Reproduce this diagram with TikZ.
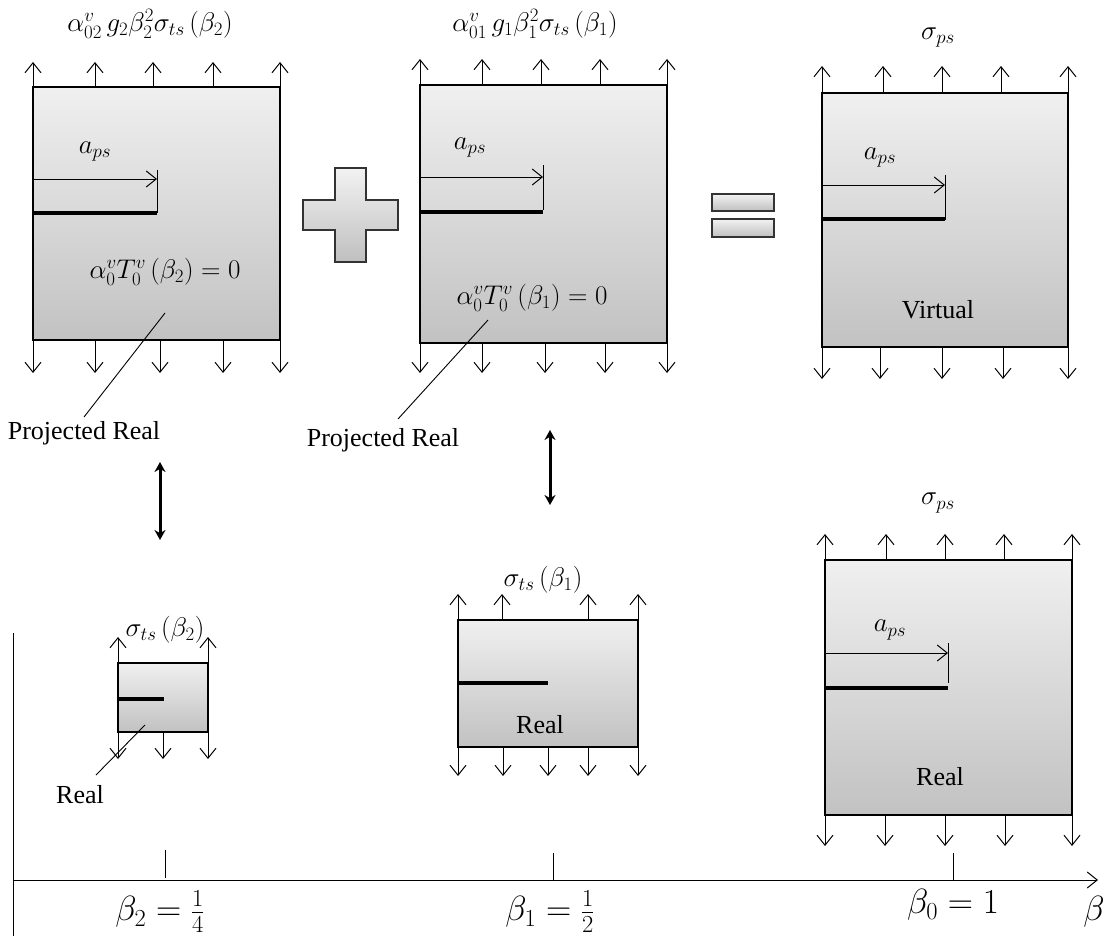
\RequirePackage{fix-cm}
\documentclass[tikz,border=0pt]{standalone}
\usepackage{fontspec}
\setmainfont{Liberation Serif}
\usetikzlibrary{arrows.meta}
\begin{document}
\begin{tikzpicture}[x=1pt,y=-1pt,
  panel/.style={draw=black,line width=1.3pt,top color=gray!12,bottom color=gray!48},
  sign/.style={draw=black!80,line width=1.2pt,top color=gray!10,bottom color=gray!50},
  load/.style={line width=1pt,-{Straight Barb[length=10pt,width=16pt,line width=1pt]}},
  dim/.style={line width=0.9pt,-{Straight Barb[length=10pt,width=16pt,line width=1pt]}},
  crack/.style={line width=4pt},
  tickl/.style={line width=0.9pt},
  leader/.style={line width=0.9pt},
  dbl/.style={line width=3pt,{Stealth[length=10pt,width=11pt]}-{Stealth[length=10pt,width=11pt]}},
  txt/.style={font=\fontsize{26}{30}\selectfont,inner sep=1pt},
  mlab/.style={font=\fontsize{27}{32}\selectfont,inner sep=1pt},
  blab/.style={font=\fontsize{35}{40}\selectfont,inner sep=1pt}]
\useasboundingbox (0,0) rectangle (1108,936);

% ---------- top-left panel ----------
\path[panel] (33,87) rectangle (280,340);
\foreach \x in {33,95,153,213,280} \draw[load] (\x,87) -- (\x,62);
\foreach \x in {33,95,160,223,280} \draw[load] (\x,340) -- (\x,373);
\node[mlab] (L1) at (150,24) {$\alpha^{v}_{02}\,g_2\beta_2^2\sigma_{ts}\,\bigl(\beta_2\bigr)$};
\node[mlab] (a1) at (95,152) {$a_{ps}$};
\coordinate (a1s) at (33,179); \coordinate (a1e) at (157,179);
\draw[dim] (a1s) -- (a1e);
\draw[tickl] (157,170) -- (157,213);
\draw[crack] (33,213) -- (157,213);
\node[mlab] (T1) at (165,272) {$\alpha_0^{v}T_0^{v}\,\bigl(\beta_2\bigr)=0$};
\node[txt] (P1) at (84,433) {Projected Real};
\coordinate (P1e) at (165,313);
\draw[leader] (P1.north) ++(0,-3) -- (P1e);

% ---------- plus sign ----------
\path[sign] (335,168) -- (366,168) -- (366,200) -- (398,200) -- (398,230) -- (366,230)
  -- (366,262) -- (335,262) -- (335,230) -- (303,230) -- (303,200) -- (335,200) -- cycle;

% ---------- top-middle panel ----------
\path[panel] (420,85) rectangle (667,343);
\foreach \x in {420,482,541,600,667} \draw[load] (\x,85) -- (\x,59);
\foreach \x in {420,482,545,605,667} \draw[load] (\x,343) -- (\x,373);
\node[mlab] (L2) at (535,24) {$\alpha^{v}_{01}\,g_1\beta_1^2\sigma_{ts}\,\bigl(\beta_1\bigr)$};
\node[mlab] (a2) at (470,148) {$a_{ps}$};
\draw[dim] (420,177) -- (543,177);
\draw[tickl] (543,165) -- (543,210);
\draw[crack] (420,212) -- (543,212);
\node[mlab] (T2) at (532,298) {$\alpha_0^{v}T_0^{v}\,\bigl(\beta_1\bigr)=0$};
\node[txt] (P2) at (383,440) {Projected Real};
\coordinate (P2e) at (488,320);
\draw[leader] (398,419) -- (P2e);

% ---------- equals sign ----------
\path[sign] (712,194) rectangle (774,211);
\path[sign] (712,219) rectangle (774,237);

% ---------- top-right panel ----------
\path[panel] (822,93) rectangle (1068,347);
\foreach \x in {822,883,942,1001,1068} \draw[load] (\x,93) -- (\x,66);
\foreach \x in {822,880,942,1003,1068} \draw[load] (\x,347) -- (\x,379);
\node[mlab] (S3) at (938,38) {$\sigma_{ps}$};
\node[mlab] (a3) at (880,158) {$a_{ps}$};
\draw[dim] (822,185) -- (945,185);
\draw[tickl] (945,175) -- (945,220);
\draw[crack] (822,219) -- (945,219);
\node[txt] (V3) at (938,310) {Virtual};

% ---------- double arrows ----------
\coordinate (d1a) at (160,462); \coordinate (d1b) at (160,540);
\draw[dbl] (d1a) -- (d1b);
\coordinate (d2a) at (550,430); \coordinate (d2b) at (550,505);
\draw[dbl] (d2a) -- (d2b);

% ---------- bottom-left small panel ----------
\path[panel] (118,663) rectangle (208,732);
\foreach \x in {118,208} \draw[load] (\x,663) -- (\x,637);
\foreach \x in {118,163,208} \draw[load] (\x,732) -- (\x,759);
\node[mlab] (S4) at (165,630) {$\sigma_{ts}\,\bigl(\beta_2\bigr)$};
\draw[crack] (118,699) -- (164,699);
\node[txt] (R4) at (80,795) {Real};
\coordinate (R4e) at (145,725);
\draw[leader] (96,775) -- (R4e);

% ---------- bottom-middle panel ----------
\path[panel] (458,620) rectangle (638,747);
\foreach \x in {458,502,588,638} \draw[load] (\x,620) -- (\x,594);
\foreach \x in {458,503,548,588,638} \draw[load] (\x,747) -- (\x,776);
\node[mlab] (S5) at (543,580) {$\sigma_{ts}\,\bigl(\beta_1\bigr)$};
\draw[crack] (458,683) -- (548,683);
\node[txt] (R5) at (540,725) {Real};

% ---------- bottom-right panel ----------
\path[panel] (825,560) rectangle (1072,815);
\foreach \x in {825,886,945,1004,1072} \draw[load] (\x,560) -- (\x,534);
\foreach \x in {825,885,945,1005,1072} \draw[load] (\x,815) -- (\x,846);
\node[mlab] (S6) at (938,503) {$\sigma_{ps}$};
\node[mlab] (a6) at (890,630) {$a_{ps}$};
\draw[dim] (825,653) -- (948,653);
\draw[tickl] (948,643) -- (948,683);
\draw[crack] (825,688) -- (948,688);
\node[txt] (R6) at (940,777) {Real};

% ---------- axes ----------
\coordinate (O) at (13,880);
\coordinate (Xend) at (1098,880);
\coordinate (Ytop) at (13,633);
\coordinate (Ybot) at (13,936);
\draw[line width=0.9pt] (Ytop) -- (Ybot);
\draw[line width=0.9pt,-{Straight Barb[length=10pt,width=16pt,line width=1pt]}] (O) -- (Xend);
\draw[tickl] (165,850) -- (165,878);
\draw[tickl] (553,853) -- (553,880);
\draw[tickl] (953,853) -- (953,880);
\node[blab] (B2) at (160,912) {$\beta_2=\frac{1}{4}$};
\node[blab] (B1) at (550,912) {$\beta_1=\frac{1}{2}$};
\node[blab] (B0) at (953,905) {$\beta_0=1$};
\node[blab] (Bx) at (1094,912) {$\beta$};
\end{tikzpicture}
\end{document}
